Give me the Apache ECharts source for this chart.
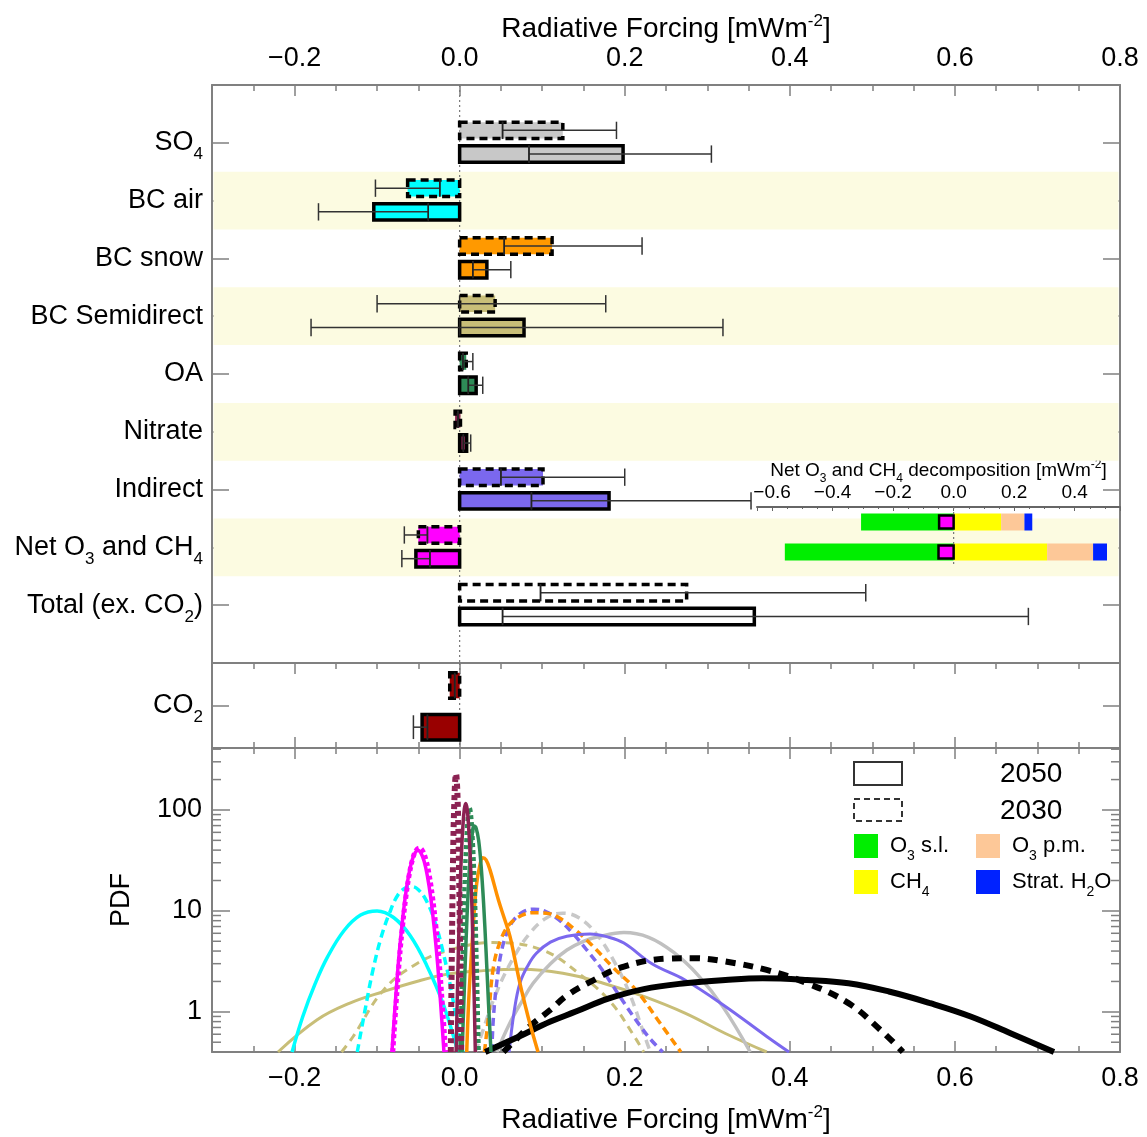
<!DOCTYPE html>
<html><head><meta charset="utf-8">
<script src="https://cdn.jsdelivr.net/npm/echarts@6/dist/echarts.min.js"></script>
<style>html,body{margin:0;padding:0;background:#fff}#c{width:1147px;height:1137px}</style>
</head><body><div id="c"></div>
<script>
// ---------------- data ----------------
const rowLabels = ['SO{s|4}', 'BC air', 'BC snow', 'BC Semidirect', 'OA', 'Nitrate', 'Indirect', 'Net O{s|3} and CH{s|4}', 'Total (ex. CO{s|2})'];
const bandRows = [2, 4, 6, 8];
// each: [whiskerLow, q1, median, q3, whiskerHigh]
const box2030 = [
  [0.052, 0, 0.052, 0.125, 0.19],
  [-0.102, -0.063, -0.024, 0, -0.024],
  [0.054, 0, 0.054, 0.112, 0.221],
  [-0.1, 0, 0, 0.043, 0.177],
  [0.004, 0, 0.004, 0.008, 0.016],
  [-0.002, -0.0055, -0.002, 0.001, -0.002],
  [0.05, 0, 0.05, 0.101, 0.2],
  [-0.067, -0.05, -0.039, 0, -0.039],
  [0.098, 0, 0.098, 0.275, 0.492]
];
const box2050 = [
  [0.084, 0, 0.084, 0.198, 0.305],
  [-0.171, -0.104, -0.038, 0, -0.038],
  [0.016, 0, 0.016, 0.033, 0.062],
  [-0.18, 0, 0, 0.078, 0.319],
  [0.0105, 0, 0.0105, 0.02, 0.028],
  [0.0045, 0, 0.0045, 0.0085, 0.0134],
  [0.087, 0, 0.087, 0.181, 0.353],
  [-0.07, -0.053, -0.036, 0, -0.036],
  [0.052, 0, 0.052, 0.357, 0.689]
];
const co2Box2030 = [-0.006, -0.012, -0.006, 0, -0.006];
const co2Box2050 = [-0.056, -0.0455, -0.039, 0, -0.039];

const decompYears = ['2030', '2050'];
const decompO3sl = [-0.306, -0.558];
const decompCH4 = [0.157, 0.309];
const decompO3pm = [0.077, 0.152];
const decompH2O = [0.026, 0.046];
const decompNet = [-0.048, -0.05];

const pdfMinorTicks = [0.5, 0.6, 0.7, 0.8, 0.9, 2, 3, 4, 5, 6, 7, 8, 9, 20, 30, 40, 50, 60, 70, 80, 90, 200, 300, 400];

const pdfBCair2050 = [[-0.203,0.4],[-0.19,0.9],[-0.175,1.9],[-0.16,3.5],[-0.14,6.4],[-0.12,9.1],[-0.1,10],[-0.08,8.6],[-0.06,5.7],[-0.04,2.9],[-0.02,1.2],[-0.002,0.4]];
const pdfBCair2030 = [[-0.124,0.4],[-0.115,1.0],[-0.105,2.6],[-0.095,5.5],[-0.085,9.5],[-0.075,14.3],[-0.065,17],[-0.058,17.4],[-0.05,16.2],[-0.04,12.5],[-0.03,7.8],[-0.02,3.9],[-0.01,1.6],[0,0.55],[0.004,0.4]];
const pdfNet2050 = [[-0.082,0.4],[-0.078,1.2],[-0.074,3.2],[-0.070,7],[-0.066,13.5],[-0.062,22],[-0.058,31],[-0.054,37.5],[-0.0505,40],[-0.047,37.5],[-0.043,31],[-0.039,22],[-0.035,13.5],[-0.031,7],[-0.027,3.2],[-0.023,1.2],[-0.019,0.4]];
const pdfNet2030 = [[-0.081,0.4],[-0.077,1.2],[-0.073,3.3],[-0.069,7.3],[-0.065,14],[-0.061,23],[-0.057,32.5],[-0.053,39.5],[-0.049,42],[-0.045,39.5],[-0.041,32.5],[-0.037,23],[-0.033,14],[-0.029,7.3],[-0.025,3.3],[-0.021,1.2],[-0.017,0.4]];
const pdfNitrate2030 = [[-0.0107,0.4],[-0.0097,2.5],[-0.008,31],[-0.0062,138],[-0.0044,227],[-0.0026,138],[-0.0009,31],[0.0009,2.5],[0.0019,0.4]];
const pdfNitrate2050 = [[-0.0042,0.4],[-0.0029,1.29],[-0.0012,5.1],[0.0005,15.7],[0.0022,37.6],[0.004,70],[0.0057,102],[0.0074,116],[0.0091,102],[0.0108,70],[0.0126,37.6],[0.0143,15.7],[0.016,5.1],[0.0177,1.29],[0.019,0.4]];
const pdfOA2050 = [[0.003,0.4],[0.006,2],[0.009,9],[0.012,28],[0.015,55],[0.0175,69.5],[0.02,66],[0.023,50],[0.026,28],[0.029,12],[0.032,4],[0.035,1.2],[0.038,0.4]];
const pdfOA2030 = [[0.001,0.4],[0.0035,3],[0.006,18],[0.0085,55],[0.0105,92],[0.012,105],[0.0135,92],[0.0155,55],[0.018,18],[0.0205,3],[0.023,0.4]];
const pdfSnow2050 = [[0.0086,0.4],[0.011,1.3],[0.0146,4.1],[0.0175,9.5],[0.0207,18.8],[0.024,27],[0.028,33.7],[0.032,32],[0.0368,25.5],[0.047,12.8],[0.054,8.5],[0.061,5.6],[0.067,3.3],[0.073,1.92],[0.079,1.2],[0.085,0.77],[0.095,0.4]];
const pdfSnow2030 = [[0.03,0.4],[0.035,0.9],[0.041,2.8],[0.05,5.2],[0.06,7.3],[0.075,9],[0.09,9.6],[0.105,9.5],[0.12,8.6],[0.139,6.6],[0.16,4.6],[0.185,2.8],[0.2136,1.65],[0.243,0.77],[0.268,0.4]];
const pdfInd2030 = [[0.039,0.4],[0.041,0.9],[0.046,2.3],[0.051,4.1],[0.057,6],[0.063,7.6],[0.075,9.6],[0.09,10.4],[0.105,9.8],[0.12,8.2],[0.137,6],[0.154,4.1],[0.17,2.8],[0.184,1.9],[0.2,1.2],[0.215,0.8],[0.23,0.55],[0.246,0.4]];
const pdfInd2050 = [[0.06,0.4],[0.066,1.0],[0.073,1.92],[0.083,2.9],[0.093,3.8],[0.11,4.9],[0.13,5.6],[0.158,5.9],[0.18,5.5],[0.199,4.8],[0.233,3.0],[0.273,2.07],[0.322,1.13],[0.372,0.57],[0.399,0.4]];
const pdfSO42030 = [[0.019,0.4],[0.025,0.55],[0.045,1.58],[0.065,3.4],[0.085,6.0],[0.105,8.5],[0.125,9.5],[0.145,8.5],[0.165,6.0],[0.185,3.4],[0.205,1.58],[0.225,0.55],[0.231,0.4]];
const pdfSO42050 = [[0.045,0.4],[0.06,0.75],[0.075,1.25],[0.089,1.92],[0.11,3.0],[0.13,4.1],[0.15,5.0],[0.17,5.6],[0.199,6.1],[0.229,5.48],[0.259,3.9],[0.289,2.3],[0.319,1.12],[0.352,0.4]];
const pdfTot2030 = [[0.053,0.4],[0.07,0.55],[0.085,0.72],[0.11,1.05],[0.13,1.45],[0.155,1.92],[0.199,2.81],[0.253,3.37],[0.283,3.4],[0.322,3.15],[0.372,2.6],[0.421,1.92],[0.471,1.22],[0.51,0.66],[0.537,0.4]];
const pdfTot2050 = [[0.031,0.4],[0.07,0.56],[0.11,0.8],[0.14,1.0],[0.18,1.35],[0.223,1.68],[0.273,1.92],[0.322,2.07],[0.367,2.15],[0.421,2.07],[0.471,1.92],[0.52,1.59],[0.57,1.22],[0.619,0.9],[0.668,0.61],[0.72,0.4]];
const pdfSemi2050 = [[-0.22,0.4],[-0.173,0.83],[-0.133,1.22],[-0.092,1.59],[-0.052,2.0],[-0.012,2.38],[0.029,2.56],[0.075,2.64],[0.125,2.41],[0.174,1.92],[0.223,1.42],[0.273,0.97],[0.322,0.61],[0.372,0.4]];
const pdfSemi2030 = [[-0.143,0.4],[-0.129,0.57],[-0.092,1.65],[-0.052,3.0],[-0.012,4.1],[0.04,4.85],[0.1,4.1],[0.149,2.24],[0.184,1.22],[0.21,0.6],[0.223,0.4]];

// ---------------- styling / rendering ----------------
const FONT = 'Liberation Sans, Arial, Helvetica, sans-serif';
const AX = '#808080';
const rowFill = ['#c8c8c8', '#00ffff', '#ff9900', '#c8be78', '#2e8b57', '#8b2252', '#7b68ee', '#ff00ff', '#ffffff'];
const subRich = { s: { fontSize: 17, padding: [24, 0, 0, 0], fontFamily: FONT, color: '#000' } };

function fmt(v) { return (v < 0 ? '\u2212' : '') + Math.abs(v).toFixed(1); }

function boxSeries(rows, data, fills, xi, yi, off, boxH, capH, dashed) {
  return {
    type: 'custom', xAxisIndex: xi, yAxisIndex: yi, z: 4, clip: false, silent: true,
    data: data.map((d, i) => [rows[i]].concat(d)),
    renderItem(params, api) {
      const row = api.value(0), wlo = api.value(1), q1 = api.value(2), med = api.value(3), q3 = api.value(4), whi = api.value(5);
      const yc = row + off;
      const a = api.coord([q1, yc - boxH / 2]), b = api.coord([q3, yc + boxH / 2]);
      const x0 = Math.min(a[0], b[0]), x1 = Math.max(a[0], b[0]);
      const y0 = Math.min(a[1], b[1]), y1 = Math.max(a[1], b[1]);
      const cy = api.coord([0, yc])[1];
      const ch = Math.abs(api.coord([0, yc + capH / 2])[1] - cy);
      const xm = api.coord([med, yc])[0], xl = api.coord([wlo, yc])[0], xh = api.coord([whi, yc])[0];
      const ls = { stroke: '#333', lineWidth: 1.5 };
      return { type: 'group', children: [
        { type: 'rect', shape: { x: x0, y: y0, width: x1 - x0, height: y1 - y0 },
          style: { fill: fills[params.dataIndex], stroke: '#000', lineWidth: 3.5, lineDash: dashed ? [8, 5] : null } },
        { type: 'line', shape: { x1: xl, y1: cy, x2: xh, y2: cy }, style: ls },
        { type: 'line', shape: { x1: xl, y1: cy - ch, x2: xl, y2: cy + ch }, style: ls },
        { type: 'line', shape: { x1: xh, y1: cy - ch, x2: xh, y2: cy + ch }, style: ls },
        { type: 'line', shape: { x1: xm, y1: y0, x2: xm, y2: y1 }, style: { stroke: '#222', lineWidth: 1.5 } }
      ] };
    }
  };
}

function zeroLine(xi, yi) {
  return {
    type: 'custom', xAxisIndex: xi, yAxisIndex: yi, z: 3, silent: true, clip: false,
    data: [[0, 0]],
    renderItem(params, api) {
      const cs = params.coordSys;
      const x = api.coord([api.value(0), api.value(1)])[0];
      return { type: 'line', shape: { x1: x, y1: cs.y, x2: x, y2: cs.y + cs.height },
        style: { stroke: '#777', lineWidth: 1.2, lineDash: [2, 3] } };
    }
  };
}

function pdfLine(data, color, width, dash) {
  return { type: 'line', xAxisIndex: 4, yAxisIndex: 4, data, symbol: 'none', smooth: 0.4, clip: true, silent: true, z: 3,
    lineStyle: { color, width, type: dash || 'solid', cap: 'butt' } };
}

function xAx(gi, pos, opts) {
  return Object.assign({
    type: 'value', gridIndex: gi, position: pos, min: -0.3, max: 0.8,
    axisLine: { show: true, onZero: false, lineStyle: { color: AX, width: 2 } },
    axisTick: { show: true, inside: true, length: 11, lineStyle: { color: AX, width: 1.5 } },
    minorTick: { show: true, splitNumber: 4, length: 6, lineStyle: { color: AX, width: 1.5 } },
    axisLabel: { show: false },
    splitLine: { show: false }, minorSplitLine: { show: false }
  }, opts || {});
}
const xLabel = { show: true, fontSize: 27, color: '#000', fontFamily: FONT, formatter: fmt, showMinLabel: false, showMaxLabel: true, margin: 13 };
const xName = 'Radiative Forcing [mWm{sup|-2}]';
const xNameStyle = { fontSize: 28, color: '#000', fontFamily: FONT, rich: { sup: { fontSize: 17, padding: [0, 0, 16, 0], fontFamily: FONT, color: '#000' } } };

const option = {
  animation: false,
  backgroundColor: '#fff',
  textStyle: { fontFamily: FONT },
  grid: [
    { left: 212, top: 85, width: 908, height: 578, containLabel: false, outerBoundsMode: 'none' },
    { left: 212, top: 663, width: 908, height: 85, containLabel: false, outerBoundsMode: 'none' },
    { left: 212, top: 748, width: 908, height: 304, containLabel: false, outerBoundsMode: 'none' },
    { left: 757, top: 507, width: 363, height: 60, containLabel: false, outerBoundsMode: 'none' }
  ],
  xAxis: [
    xAx(0, 'top', { axisLabel: xLabel, name: xName, nameLocation: 'middle', nameGap: 39, nameMoveOverlap: false, nameTextStyle: xNameStyle }),
    xAx(0, 'bottom', { axisTick: { show: false }, minorTick: { show: false } }),
    xAx(1, 'top'),
    xAx(1, 'bottom'),
    xAx(2, 'top'),
    xAx(2, 'bottom', { axisLabel: xLabel, name: xName, nameLocation: 'middle', nameGap: 52, nameTextStyle: xNameStyle }),
    {
      type: 'value', gridIndex: 3, position: 'top', min: -0.65, max: 0.55,
      axisLine: { show: true, onZero: false, lineStyle: { color: '#666', width: 2 } },
      axisTick: { show: true, inside: true, length: 4, lineStyle: { color: '#666', width: 1 } },
      minorTick: { show: true, splitNumber: 4, length: 2, lineStyle: { color: '#666', width: 1 } },
      axisLabel: { show: true, fontSize: 19, color: '#000', fontFamily: FONT, formatter: fmt, showMinLabel: false, showMaxLabel: false, margin: 5 },
      splitLine: { show: false },
      name: 'Net O{s|3} and CH{s|4} decomposition [mWm{sup|-2}]', nameLocation: 'middle', nameGap: 22, nameMoveOverlap: false,
      nameTextStyle: { fontSize: 19, color: '#000', fontFamily: FONT, rich: {
        s: { fontSize: 12, padding: [16, 0, 0, 0], fontFamily: FONT, color: '#000' },
        sup: { fontSize: 12, padding: [0, 0, 12, 0], fontFamily: FONT, color: '#000' } } }
    }
  ],
  yAxis: [
    { type: 'value', gridIndex: 0, position: 'left', min: 0, max: 10, interval: 1, inverse: true,
      axisLine: { show: true, onZero: false, lineStyle: { color: AX, width: 2 } },
      axisTick: { show: true, inside: true, length: 17, lineStyle: { color: AX, width: 1.5 } },
      axisLabel: { show: true, fontSize: 27, color: '#000', fontFamily: FONT, margin: 9,
        formatter: v => rowLabels[Math.round(v) - 1] || '', rich: subRich },
      splitLine: { show: false } },
    { type: 'value', gridIndex: 0, position: 'right', min: 0, max: 10, interval: 1, inverse: true,
      axisLine: { show: true, onZero: false, lineStyle: { color: AX, width: 2 } },
      axisTick: { show: true, inside: true, length: 17, lineStyle: { color: AX, width: 1.5 } },
      axisLabel: { show: false }, splitLine: { show: false } },
    { type: 'value', gridIndex: 1, position: 'left', min: 0, max: 1, interval: 0.5, inverse: true,
      axisLine: { show: true, onZero: false, lineStyle: { color: AX, width: 2 } },
      axisTick: { show: true, inside: true, length: 17, lineStyle: { color: AX, width: 1.5 } },
      axisLabel: { show: true, fontSize: 27, color: '#000', fontFamily: FONT, margin: 9,
        formatter: v => (Math.abs(v - 0.5) < 1e-6 ? 'CO{s|2}' : ''), rich: subRich },
      splitLine: { show: false } },
    { type: 'value', gridIndex: 1, position: 'right', min: 0, max: 1, interval: 0.5, inverse: true,
      axisLine: { show: true, onZero: false, lineStyle: { color: AX, width: 2 } },
      axisTick: { show: true, inside: true, length: 17, lineStyle: { color: AX, width: 1.5 } },
      axisLabel: { show: false }, splitLine: { show: false } },
    { type: 'log', logBase: 10, gridIndex: 2, position: 'left', min: 0.4, max: 411,
      axisLine: { show: true, onZero: false, lineStyle: { color: AX, width: 2 } },
      axisTick: { show: true, inside: true, length: 18, lineStyle: { color: AX, width: 1.5 } },
      axisLabel: { show: true, fontSize: 27, color: '#000', fontFamily: FONT, margin: 10, showMinLabel: false, showMaxLabel: false,
        formatter: v => String(Math.round(v)) },
      splitLine: { show: false },
      name: 'PDF', nameLocation: 'middle', nameGap: 77, nameRotate: 90,
      nameTextStyle: { fontSize: 27, color: '#000', fontFamily: FONT } },
    { type: 'log', logBase: 10, gridIndex: 2, position: 'right', min: 0.4, max: 411,
      axisLine: { show: true, onZero: false, lineStyle: { color: AX, width: 2 } },
      axisTick: { show: true, inside: true, length: 18, lineStyle: { color: AX, width: 1.5 } },
      axisLabel: { show: false }, splitLine: { show: false } },
    { type: 'category', gridIndex: 3, data: decompYears, inverse: true, show: false }
  ],
  series: [
    { type: 'custom', xAxisIndex: 0, yAxisIndex: 0, z: 1, silent: true, clip: false,
      data: bandRows.map(r => [0, r]),
      renderItem(params, api) {
        const cs = params.coordSys;
        const r = api.value(1);
        const a = api.coord([0, r - 0.5])[1], b = api.coord([0, r + 0.5])[1];
        return { type: 'rect', shape: { x: cs.x + 1.5, y: Math.min(a, b), width: cs.width - 3, height: Math.abs(b - a) },
          style: { fill: '#fcfbe1' } };
      } },
    zeroLine(0, 0),
    zeroLine(2, 2),
    boxSeries([1, 2, 3, 4, 5, 6, 7, 8, 9], box2030, rowFill, 0, 0, -0.215, 0.285, 0.3, true),
    boxSeries([1, 2, 3, 4, 5, 6, 7, 8, 9], box2050, rowFill, 0, 0, 0.195, 0.285, 0.3, false),
    boxSeries([0.5], [co2Box2030], ['#990000'], 2, 2, -0.235, 0.3, 0.28, true),
    boxSeries([0.5], [co2Box2050], ['#990000'], 2, 2, 0.255, 0.3, 0.28, false),
    { type: 'bar', xAxisIndex: 6, yAxisIndex: 6, stack: 'd', data: decompO3sl, barWidth: 17, z: 5, silent: true, itemStyle: { color: '#00ee00' } },
    { type: 'bar', xAxisIndex: 6, yAxisIndex: 6, stack: 'd', data: decompCH4, barWidth: 17, z: 5, silent: true, itemStyle: { color: '#ffff00' } },
    { type: 'bar', xAxisIndex: 6, yAxisIndex: 6, stack: 'd', data: decompO3pm, barWidth: 17, z: 5, silent: true, itemStyle: { color: '#fdc898' } },
    { type: 'bar', xAxisIndex: 6, yAxisIndex: 6, stack: 'd', data: decompH2O, barWidth: 17, z: 5, silent: true, itemStyle: { color: '#0022ff' } },
    { type: 'custom', xAxisIndex: 6, yAxisIndex: 6, z: 7, silent: true, clip: false,
      data: decompNet.map((v, i) => [v, i]),
      renderItem(params, api) {
        const a = api.coord([api.value(0), api.value(1)]), b = api.coord([0, api.value(1)]);
        return { type: 'rect', shape: { x: Math.min(a[0], b[0]), y: a[1] - 6.5, width: Math.abs(b[0] - a[0]), height: 13 },
          style: { fill: '#ff00ff', stroke: '#000', lineWidth: 2.5 } };
      } },
    Object.assign(zeroLine(6, 6), { z: 6 }),
    { type: 'custom', xAxisIndex: 4, yAxisIndex: 4, z: 1, silent: true, clip: false,
      data: pdfMinorTicks.map(v => [0, v]),
      renderItem(params, api) {
        const cs = params.coordSys;
        const y = api.coord([0, api.value(1)])[1];
        const st = { stroke: AX, lineWidth: 1.5 };
        return { type: 'group', children: [
          { type: 'line', shape: { x1: cs.x, y1: y, x2: cs.x + 9, y2: y }, style: st },
          { type: 'line', shape: { x1: cs.x + cs.width - 9, y1: y, x2: cs.x + cs.width, y2: y }, style: st }
        ] };
      } },
    pdfLine(pdfSemi2050, '#c8be78', 3),
    pdfLine(pdfSemi2030, '#c8be78', 3, [8, 6]),
    pdfLine(pdfBCair2050, '#00ffff', 3.5),
    pdfLine(pdfBCair2030, '#00ffff', 3.5, [8, 5]),
    pdfLine(pdfSO42030, '#c8c8c8', 3.5, [9, 6]),
    pdfLine(pdfSO42050, '#c0c0c0', 3.5),
    pdfLine(pdfInd2030, '#7b68ee', 3.5, [8, 5]),
    pdfLine(pdfSnow2030, '#ff9000', 3.5, [8, 5]),
    pdfLine(pdfInd2050, '#7b68ee', 3),
    pdfLine(pdfTot2030, '#000000', 6, [10, 8]),
    pdfLine(pdfTot2050, '#000000', 6),
    pdfLine(pdfNet2030, '#ff00ff', 5, [4, 3]),
    pdfLine(pdfNet2050, '#ff00ff', 3.5),
    pdfLine(pdfSnow2050, '#ff9000', 3.5),
    pdfLine(pdfOA2030, '#2e8b57', 4.5, [4, 3]),
    pdfLine(pdfOA2050, '#2e8b57', 3.5),
    pdfLine(pdfNitrate2030, '#8b2252', 6, [5, 4]),
    pdfLine(pdfNitrate2050, '#8b2252', 3.5)
  ],
  graphic: [
    { type: 'rect', shape: { x: 854, y: 762, width: 48, height: 23 }, style: { fill: 'none', stroke: '#333', lineWidth: 2 } },
    { type: 'text', x: 1000, y: 774, style: { text: '2050', fontSize: 28, fontFamily: FONT, fill: '#000', verticalAlign: 'middle' } },
    { type: 'rect', shape: { x: 854, y: 799, width: 48, height: 22 }, style: { fill: 'none', stroke: '#333', lineWidth: 2, lineDash: [6, 4] } },
    { type: 'text', x: 1000, y: 811, style: { text: '2030', fontSize: 28, fontFamily: FONT, fill: '#000', verticalAlign: 'middle' } },
    { type: 'rect', shape: { x: 854, y: 834, width: 24, height: 24 }, style: { fill: '#00ee00' } },
    { type: 'rect', shape: { x: 976, y: 834, width: 24, height: 24 }, style: { fill: '#fdc898' } },
    { type: 'rect', shape: { x: 854, y: 870, width: 24, height: 24 }, style: { fill: '#ffff00' } },
    { type: 'rect', shape: { x: 976, y: 870, width: 24, height: 24 }, style: { fill: '#0022ff' } },
    { type: 'text', x: 890, y: 846, style: { text: 'O{s|3} s.l.', fontSize: 22, fontFamily: FONT, fill: '#000', verticalAlign: 'middle',
      rich: { s: { fontSize: 14, padding: [20, 0, 0, 0], fontFamily: FONT, fill: '#000' } } } },
    { type: 'text', x: 1012, y: 846, style: { text: 'O{s|3} p.m.', fontSize: 22, fontFamily: FONT, fill: '#000', verticalAlign: 'middle',
      rich: { s: { fontSize: 14, padding: [20, 0, 0, 0], fontFamily: FONT, fill: '#000' } } } },
    { type: 'text', x: 890, y: 882, style: { text: 'CH{s|4}', fontSize: 22, fontFamily: FONT, fill: '#000', verticalAlign: 'middle',
      rich: { s: { fontSize: 14, padding: [20, 0, 0, 0], fontFamily: FONT, fill: '#000' } } } },
    { type: 'text', x: 1012, y: 882, style: { text: 'Strat. H{s|2}O', fontSize: 22, fontFamily: FONT, fill: '#000', verticalAlign: 'middle',
      rich: { s: { fontSize: 14, padding: [20, 0, 0, 0], fontFamily: FONT, fill: '#000' } } } }
  ]
};

const chart = echarts.init(document.getElementById('c'), null, { renderer: 'canvas' });
chart.setOption(option);
</script></body></html>
